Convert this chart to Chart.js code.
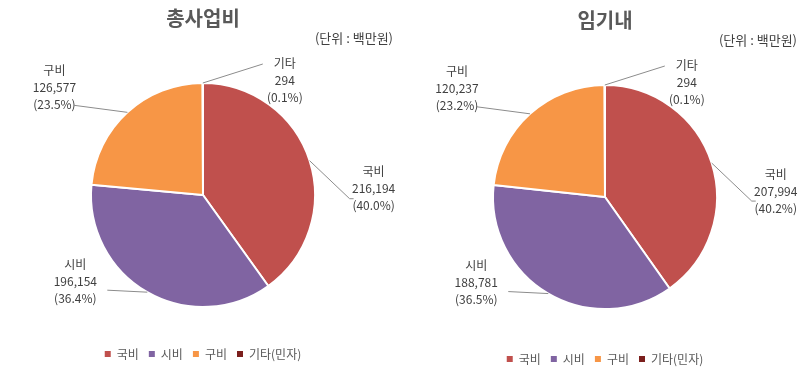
<!DOCTYPE html>
<html>
<head>
<meta charset="utf-8">
<script src="https://cdn.jsdelivr.net/npm/chart.js@4/dist/chart.umd.min.js"></script>
<style>
  html, body { margin: 0; padding: 0; background: #fff; }
  #wrap { position: relative; width: 807px; height: 376px; }
  #left_chart { position: absolute; left: 0; top: 0; }
  #right_chart { position: absolute; left: 403px; top: 0; }
</style>
</head>
<body>
<div id="wrap">
  <canvas id="left_chart" width="403" height="376"></canvas>
  <canvas id="right_chart" width="404" height="376"></canvas>
</div>
<script>
const categories = ['국비', '시비', '구비', '기타(민자)'];
const slice_names = ['국비', '시비', '구비', '기타'];

const total_values = [216194, 196154, 126577, 294];
const total_percents = ['40.0%', '36.4%', '23.5%', '0.1%'];

const term_values = [207994, 188781, 120237, 294];
const term_percents = ['40.2%', '36.5%', '23.2%', '0.1%'];

const slice_colors = ['#C0504D', '#8064A2', '#F79646', '#7B1F1D'];
const FONT = "'Noto Sans CJK KR', 'Noto Sans', sans-serif";

// label offsets from the middle of each arc edge, and where the leader line touches the label
const label_offsets = [[64, 28], [-72, -11], [-73, -25], [82, -3]];
const leader_ends = [[-24, 10], [32, 9], [20, 18], [-22, -16]];

const pieLabels = {
  id: 'pieLabels',
  afterDatasetsDraw(chart, args, opts) {
    const ctx = chart.ctx;
    const meta = chart.getDatasetMeta(0);
    const values = chart.data.datasets[0].data;
    ctx.save();
    ctx.font = `12px ${FONT}`;
    ctx.textAlign = 'center';
    ctx.textBaseline = 'middle';
    meta.data.forEach((arc, i) => {
      const {x, y, startAngle, endAngle, outerRadius} = arc.getProps(['x', 'y', 'startAngle', 'endAngle', 'outerRadius'], true);
      const mid = (startAngle + endAngle) / 2;
      const px = x + Math.cos(mid) * outerRadius;
      const py = y + Math.sin(mid) * outerRadius;
      const lx = px + label_offsets[i][0];
      const ly = py + label_offsets[i][1];

      // leader line
      ctx.strokeStyle = '#8C8C8C';
      ctx.lineWidth = 1;
      ctx.beginPath();
      ctx.moveTo(px, py);
      const ex = lx + leader_ends[i][0];
      const ey = ly + leader_ends[i][1];
      ctx.lineTo(ex, ey);
      if (i === 0) ctx.lineTo(ex + 4, ey);
      ctx.stroke();

      ctx.fillStyle = '#404040';
      ctx.fillText(slice_names[i], lx, ly - 17);
      ctx.fillText(values[i].toLocaleString('en-US'), lx, ly);
      ctx.fillText('(' + opts.percents[i] + ')', lx, ly + 17);
    });
    ctx.restore();
  }
};

function makePie(canvas, title, values, percents, extra) {
  return new Chart(canvas, {
    type: 'pie',
    data: {
      labels: categories,
      datasets: [{
        data: values,
        backgroundColor: slice_colors,
        borderColor: '#FFFFFF',
        borderWidth: 2,
        radius: 112
      }]
    },
    options: {
      responsive: false,
      animation: false,
      layout: {
        padding: {top: extra.top, bottom: extra.bottom, left: extra.left, right: 10}
      },
      plugins: {
        title: {
          display: true,
          text: title,
          color: '#595959',
          font: {family: FONT, size: 20, weight: 'bold'},
          padding: {top: 6, bottom: 0}
        },
        subtitle: {
          display: true,
          text: '(단위 : 백만원)',
          align: 'end',
          color: '#404040',
          font: {family: FONT, size: 13},
          padding: {top: 0, bottom: extra.gap}
        },
        legend: {
          position: 'bottom',
          labels: {
            boxWidth: 6,
            boxHeight: 6,
            padding: 10,
            color: '#595959',
            font: {family: FONT, size: 12},
            generateLabels(chart) {
              return Chart.overrides.pie.plugins.legend.labels.generateLabels(chart)
                .map(l => Object.assign(l, {lineWidth: 0}));
            }
          }
        },
        tooltip: {enabled: false},
        pieLabels: {percents: percents}
      }
    },
    plugins: [pieLabels]
  });
}

makePie(document.getElementById('left_chart'), '총사업비', total_values, total_percents,
  {top: 0, bottom: 6, left: 13, gap: 6.4});
makePie(document.getElementById('right_chart'), '임기내', term_values, term_percents,
  {top: 2, bottom: 1, left: 10, gap: 3.4});
</script>
</body>
</html>
